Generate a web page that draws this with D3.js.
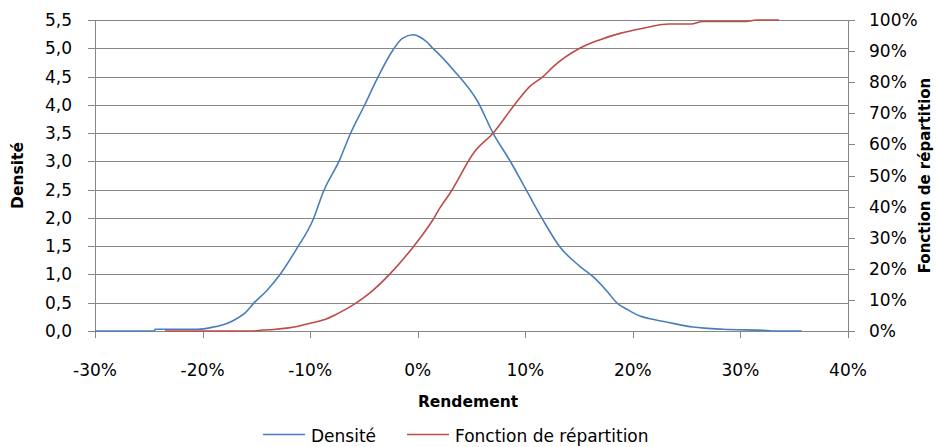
<!DOCTYPE html>
<html>
<head>
<meta charset="utf-8">
<script src="https://cdn.jsdelivr.net/npm/d3@7"></script>
<style>
  body { margin: 0; background: #fff; }
  text { font-family: "DejaVu Sans", sans-serif; fill: #000; }
</style>
</head>
<body>
<div id="container"></div>
<script>
// size of the picture
let w = 936;
let h = 447;

// rendement (%) and densite
let densX = [-30, -24.5, -24.4, -20.5, -19, -17.8, -17, -16, -15.3, -14, -12.8, -11.3, -9.7, -8.8, -7.25, -6.3, -4.9, -3.8, -2.3, -1.4, -0.4, 0.2, 0.8, 1.4, 1.9, 3.3, 5.6, 7, 8.55, 10.1, 11.65, 13.2, 15.1, 16.3, 17.7, 18.5, 19.5, 20.6, 21.5, 23.1, 25.6, 28.4, 32.5, 33, 35.7];
let densY = [0, 0, 0.03, 0.03, 0.07, 0.13, 0.2, 0.33, 0.48, 0.72, 1.0, 1.44, 1.98, 2.45, 3.03, 3.47, 4.01, 4.45, 4.97, 5.18, 5.24, 5.2, 5.12, 5.0, 4.91, 4.62, 4.05, 3.5, 3.02, 2.49, 1.96, 1.49, 1.14, 0.96, 0.68, 0.5, 0.38, 0.27, 0.22, 0.16, 0.07, 0.03, 0.01, 0, 0];

// rendement (%) and fonction de repartition (%)
let cdfX = [-23.5, -15.3, -14.4, -13.4, -12, -11, -10, -8.8, -7.5, -6, -4.5, -2.6, -0.4, 0.2, 1.4, 2.05, 3, 5.3, 7, 8.86, 10.4, 11.65, 12.6, 15.06, 16.9, 18.8, 20.6, 23.4, 25.4, 26.5, 30.5, 31.5, 33.6];
let cdfY = [0, 0, 0.3, 0.5, 1.0, 1.6, 2.5, 3.5, 5.5, 8.4, 12.1, 18.3, 27.1, 29.8, 35.7, 39.5, 44.3, 57.7, 63.6, 72.1, 78.6, 81.8, 85, 90.9, 93.6, 95.7, 97.1, 98.7, 98.7, 99.5, 99.5, 100, 100];

let xTicks = [-30, -20, -10, 0, 10, 20, 30, 40];
let leftTicks = [0, 0.5, 1, 1.5, 2, 2.5, 3, 3.5, 4, 4.5, 5, 5.5];
let rightTicks = [0, 10, 20, 30, 40, 50, 60, 70, 80, 90, 100];

let seriesNames = ["Densité", "Fonction de répartition"];
let seriesColors = ["#4a7ebb", "#be4b48"];

let fr = d3.formatLocale({decimal: ",", thousands: " ", grouping: [3], currency: ["", " €"], minus: "-"});
let fmt1 = fr.format(".1f");

let plotLeft = 95, plotRight = 848, plotTop = 20, plotBottom = 331;
let gridColor = "#868686";

let viz = d3.select("#container")
  .append("svg")
    .attr("width", w)
    .attr("height", h)
    .style("background-color", "white");

let xScale = d3.scaleLinear().domain([-30, 40]).range([plotLeft, plotRight]);
let yScale = d3.scaleLinear().domain([0, 5.5]).range([plotBottom, plotTop]);
let y2Scale = d3.scaleLinear().domain([0, 100]).range([plotBottom, plotTop]);

// gridlines
viz.selectAll(".grid").data(leftTicks).enter()
  .append("line")
    .attr("x1", plotLeft - 7)
    .attr("x2", plotRight)
    .attr("y1", d => Math.round(yScale(d)) + 0.5)
    .attr("y2", d => Math.round(yScale(d)) + 0.5)
    .attr("stroke", gridColor)
    .attr("stroke-width", 1);

// axes lines
viz.append("line").attr("x1", plotLeft + 0.5).attr("x2", plotLeft + 0.5).attr("y1", plotTop).attr("y2", plotBottom)
  .attr("stroke", gridColor);
viz.append("line").attr("x1", plotRight + 0.5).attr("x2", plotRight + 0.5).attr("y1", plotTop).attr("y2", plotBottom)
  .attr("stroke", gridColor);

// x ticks
viz.selectAll(".xtick").data(xTicks).enter()
  .append("line")
    .attr("x1", d => Math.round(xScale(d)) + 0.5)
    .attr("x2", d => Math.round(xScale(d)) + 0.5)
    .attr("y1", plotBottom)
    .attr("y2", plotBottom + 7)
    .attr("stroke", gridColor);

viz.selectAll(".xlabel").data(xTicks).enter()
  .append("text")
    .attr("x", d => xScale(d))
    .attr("y", 376)
    .attr("text-anchor", "middle")
    .style("font-size", "17px")
    .text(d => d + "%");

// left labels
viz.selectAll(".ylabel").data(leftTicks).enter()
  .append("text")
    .attr("x", 72)
    .attr("y", d => yScale(d) + 6)
    .attr("text-anchor", "end")
    .style("font-size", "17px")
    .text(d => fmt1(d));

// right ticks and labels
viz.selectAll(".rtick").data(rightTicks).enter()
  .append("line")
    .attr("x1", plotRight)
    .attr("x2", plotRight + 7)
    .attr("y1", d => Math.round(y2Scale(d)) + 0.5)
    .attr("y2", d => Math.round(y2Scale(d)) + 0.5)
    .attr("stroke", gridColor);

viz.selectAll(".rlabel").data(rightTicks).enter()
  .append("text")
    .attr("x", 869)
    .attr("y", d => y2Scale(d) + 6)
    .attr("text-anchor", "start")
    .style("font-size", "17px")
    .text(d => d + "%");

// lines
let densLine = d3.line()
  .x(d => xScale(d[0]))
  .y(d => yScale(d[1]))
  .curve(d3.curveMonotoneX);
let cdfLine = d3.line()
  .x(d => xScale(d[0]))
  .y(d => y2Scale(d[1]))
  .curve(d3.curveMonotoneX);

viz.append("path")
  .datum(d3.zip(densX, densY))
  .attr("d", densLine)
  .attr("fill", "none")
  .attr("stroke", seriesColors[0])
  .attr("stroke-width", 1.6);

viz.append("path")
  .datum(d3.zip(cdfX, cdfY))
  .attr("d", cdfLine)
  .attr("fill", "none")
  .attr("stroke", seriesColors[1])
  .attr("stroke-width", 1.6);

// axis titles
viz.append("text")
  .attr("transform", "translate(23," + (plotTop + plotBottom) / 2 + ") rotate(-90)")
  .attr("text-anchor", "middle")
  .style("font-size", "15.5px")
  .style("font-weight", "bold")
  .text("Densité");

viz.append("text")
  .attr("transform", "translate(930," + (plotTop + plotBottom) / 2 + ") rotate(-90)")
  .attr("text-anchor", "middle")
  .style("font-size", "15px")
  .style("font-weight", "bold")
  .text("Fonction de répartition");

viz.append("text")
  .attr("x", 468)
  .attr("y", 407)
  .attr("text-anchor", "middle")
  .style("font-size", "15.5px")
  .style("font-weight", "bold")
  .text("Rendement");

// legend
let legendX = [263, 407];
let legend = viz.selectAll(".legend").data(seriesNames).enter()
  .append("g")
    .attr("transform", (d, i) => "translate(" + legendX[i] + ",434.5)");
legend.append("line")
  .attr("x1", 0).attr("x2", 42)
  .attr("y1", 0).attr("y2", 0)
  .attr("stroke", (d, i) => seriesColors[i])
  .attr("stroke-width", 1.6);
legend.append("text")
  .attr("x", 48)
  .attr("y", 7)
  .style("font-size", "17px")
  .text(d => d);
</script>
</body>
</html>
